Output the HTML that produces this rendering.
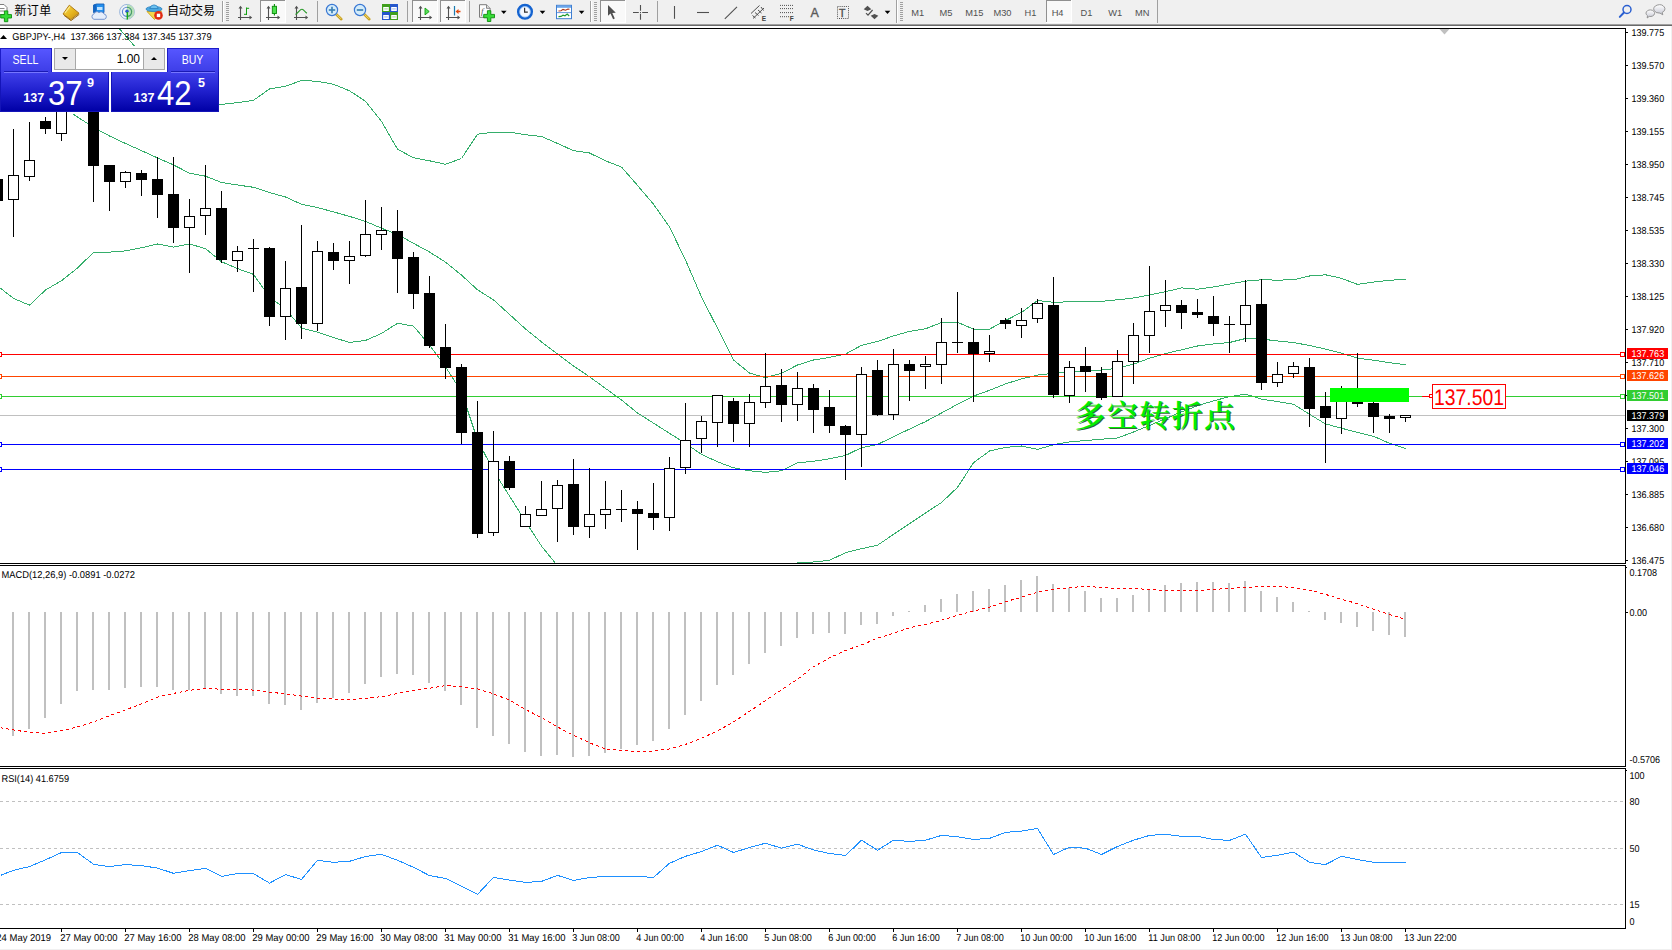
<!DOCTYPE html>
<html><head><meta charset="utf-8"><title>GBPJPY-,H4</title>
<style>
html,body{margin:0;padding:0;background:#fff;overflow:hidden}
body{width:1672px;height:950px;position:relative;font-family:"Liberation Sans","Noto Sans CJK SC",sans-serif}
#root{position:absolute;left:0;top:0;width:1672px;height:950px;overflow:hidden;background:#fff}
#tb{position:absolute;left:0;top:0;width:1672px;height:24px;background:#f0f0f0}
#tb1{position:absolute;left:0;top:24px;width:1672px;height:1px;background:#a0a0a0}
#tb2{position:absolute;left:0;top:25px;width:1672px;height:1px;background:#696969}
#rs{position:absolute;left:1671px;top:26px;width:1px;height:924px;background:#f0f0f0}
#bs{position:absolute;left:0;top:949px;width:1672px;height:1px;background:#f0f0f0}
</style></head><body>
<div id="root">
<svg id="chart" width="1672" height="950" viewBox="0 0 1672 950" style="position:absolute;left:0;top:0;text-rendering:geometricPrecision" font-family="'Liberation Sans','Noto Sans CJK SC',sans-serif">
<defs><clipPath id="cm"><rect x="0" y="29" width="1625" height="534"/></clipPath></defs>
<rect x="0" y="415" width="1625" height="1" fill="#c0c0c0" />
<g clip-path="url(#cm)">
<polyline points="117.8,27.0 134.1,45.6 141.5,52.0 157.5,63.0 173.5,75.0 189.5,88.0 205.5,102.0 220.3,104.6 237.5,102.6 253.5,100.3 269.5,89.0 285.5,86.3 301.5,80.5 317.5,81.3 333.5,84.3 349.5,90.8 365.5,101.3 381.5,121.3 397.5,149.2 413.5,157.8 429.5,160.8 445.5,164.3 461.5,158.5 477.5,134.2 493.5,132.1 509.5,132.1 525.5,134.7 541.5,136.5 557.5,143.4 573.5,150.7 589.5,153.0 605.5,160.8 621.5,167.1 637.5,185.4 653.5,204.2 669.5,227.0 685.5,260.0 701.5,297.0 717.5,328.2 733.5,360.0 749.5,373.0 765.5,377.7 781.5,373.2 797.5,365.0 813.5,360.0 829.5,357.4 845.5,354.1 861.5,345.3 877.5,341.5 893.5,335.9 909.5,331.4 925.5,328.8 941.5,322.5 957.5,322.3 973.5,329.1 989.5,329.1 1005.5,320.5 1021.5,312.4 1037.5,300.5 1053.5,302.3 1069.5,301.8 1085.5,301.3 1101.5,301.3 1117.5,299.8 1133.5,298.0 1149.5,295.0 1165.5,291.7 1181.5,287.9 1197.5,289.2 1213.5,286.9 1229.5,284.1 1245.5,281.1 1261.5,279.8 1277.5,280.1 1293.5,279.8 1309.5,276.0 1325.5,274.8 1341.5,278.3 1357.5,284.4 1373.5,282.1 1389.5,280.3 1405.5,279.3" fill="none" stroke="#35ae6b" stroke-width="1" shape-rendering="crispEdges"/>
<polyline points="73.3,114.2 93.5,127.4 109.5,136.0 125.5,143.5 141.5,150.6 157.5,157.9 173.5,164.9 189.5,173.2 205.5,176.2 221.5,182.5 237.5,185.0 253.5,187.3 269.5,192.5 285.5,197.0 301.5,204.3 317.5,207.6 333.5,211.9 349.5,216.4 365.5,221.4 381.5,228.2 397.5,234.5 413.5,243.3 429.5,252.0 445.5,262.1 461.5,275.1 477.5,289.8 493.5,299.9 509.5,314.4 525.5,328.9 541.5,341.9 557.5,353.9 573.5,366.0 589.5,376.8 605.5,388.4 621.5,400.0 637.5,413.0 653.5,423.1 669.5,433.3 685.5,443.4 701.5,454.3 717.5,461.8 733.5,467.8 749.5,470.8 765.5,472.3 781.5,470.8 797.5,462.8 813.5,461.3 829.5,458.8 845.5,455.4 861.5,447.7 877.5,444.5 893.5,436.7 909.5,429.1 925.5,421.6 941.5,413.0 957.5,404.3 973.5,396.1 989.5,390.3 1005.5,383.9 1021.5,378.9 1037.5,375.1 1053.5,373.3 1069.5,371.8 1085.5,370.8 1101.5,370.0 1117.5,368.3 1133.5,364.2 1149.5,358.2 1165.5,353.6 1181.5,349.8 1197.5,346.0 1213.5,344.0 1229.5,342.5 1245.5,338.5 1261.5,339.0 1277.5,341.0 1293.5,342.5 1309.5,345.5 1325.5,349.1 1341.5,353.1 1357.5,358.2 1373.5,360.2 1389.5,362.7 1405.5,364.7" fill="none" stroke="#35ae6b" stroke-width="1" shape-rendering="crispEdges"/>
<polyline points="0.5,288.3 13.5,298.4 29.5,305.2 45.5,290.0 61.5,280.7 77.5,268.0 93.5,252.4 109.5,252.1 125.5,250.9 141.5,247.8 157.5,244.0 173.5,247.1 189.5,244.0 205.5,248.6 221.5,261.7 237.5,268.6 253.5,274.4 269.5,297.0 285.5,309.0 301.5,328.0 317.5,332.2 333.5,337.5 349.5,342.5 365.5,340.5 381.5,333.4 397.5,323.3 413.5,326.1 429.5,345.2 445.5,366.7 461.5,392.0 477.5,440.0 493.5,470.9 509.5,496.0 525.5,521.5 541.5,546.1 555.2,563.0" fill="none" stroke="#35ae6b" stroke-width="1" shape-rendering="crispEdges"/>
<polyline points="797.2,563.0 813.5,562.0 829.5,560.3 845.5,552.7 861.5,548.7 877.5,545.2 893.5,534.4 909.5,523.6 925.5,513.0 941.5,502.5 957.5,487.4 973.5,462.8 989.5,451.0 1005.5,447.4 1021.5,446.0 1037.5,449.4 1053.5,444.7 1069.5,441.9 1085.5,440.5 1101.5,439.2 1117.5,438.0 1133.5,432.0 1149.5,425.5 1165.5,418.7 1181.5,411.8 1197.5,405.8 1213.5,400.8 1229.5,396.7 1245.5,394.1 1261.5,399.1 1277.5,401.6 1293.5,404.2 1309.5,414.3 1325.5,423.9 1341.5,428.2 1357.5,432.5 1373.5,436.3 1389.5,443.3 1405.5,448.6" fill="none" stroke="#35ae6b" stroke-width="1" shape-rendering="crispEdges"/>
</g>
<rect x="0" y="354" width="1625" height="1" fill="#ff0000" />
<rect x="0" y="376" width="1625" height="1" fill="#ff4500" />
<rect x="0" y="396" width="1625" height="1" fill="#32cd32" />
<rect x="0" y="444" width="1625" height="1" fill="#0000ff" />
<rect x="0" y="469" width="1625" height="1" fill="#0000ff" />
<g shape-rendering="crispEdges">
<rect x="-8" y="179" width="11" height="22" fill="#000"/>
<rect x="13" y="129" width="1" height="108" fill="#000"/>
<rect x="8" y="175" width="11" height="25" fill="#000"/>
<rect x="9" y="176" width="9" height="23" fill="#fff"/>
<rect x="29" y="122" width="1" height="59" fill="#000"/>
<rect x="24" y="160" width="11" height="17" fill="#000"/>
<rect x="25" y="161" width="9" height="15" fill="#fff"/>
<rect x="45" y="117" width="1" height="17" fill="#000"/>
<rect x="40" y="121" width="11" height="8" fill="#000"/>
<rect x="61" y="80" width="1" height="61" fill="#000"/>
<rect x="56" y="90" width="11" height="44" fill="#000"/>
<rect x="57" y="91" width="9" height="42" fill="#fff"/>
<rect x="93" y="95" width="1" height="107" fill="#000"/>
<rect x="88" y="100" width="11" height="66" fill="#000"/>
<rect x="109" y="165" width="1" height="46" fill="#000"/>
<rect x="104" y="165" width="11" height="17" fill="#000"/>
<rect x="125" y="171" width="1" height="17" fill="#000"/>
<rect x="120" y="172" width="11" height="10" fill="#000"/>
<rect x="121" y="173" width="9" height="8" fill="#fff"/>
<rect x="141" y="170" width="1" height="26" fill="#000"/>
<rect x="136" y="173" width="11" height="7" fill="#000"/>
<rect x="157" y="157" width="1" height="61" fill="#000"/>
<rect x="152" y="179" width="11" height="16" fill="#000"/>
<rect x="173" y="157" width="1" height="86" fill="#000"/>
<rect x="168" y="194" width="11" height="34" fill="#000"/>
<rect x="189" y="199" width="1" height="74" fill="#000"/>
<rect x="184" y="216" width="11" height="12" fill="#000"/>
<rect x="185" y="217" width="9" height="10" fill="#fff"/>
<rect x="205" y="165" width="1" height="70" fill="#000"/>
<rect x="200" y="208" width="11" height="8" fill="#000"/>
<rect x="201" y="209" width="9" height="6" fill="#fff"/>
<rect x="221" y="191" width="1" height="72" fill="#000"/>
<rect x="216" y="208" width="11" height="52" fill="#000"/>
<rect x="237" y="246" width="1" height="26" fill="#000"/>
<rect x="232" y="251" width="11" height="10" fill="#000"/>
<rect x="233" y="252" width="9" height="8" fill="#fff"/>
<rect x="253" y="239" width="1" height="53" fill="#000"/>
<rect x="248" y="248" width="11" height="1" fill="#000"/>
<rect x="269" y="247" width="1" height="79" fill="#000"/>
<rect x="264" y="248" width="11" height="69" fill="#000"/>
<rect x="285" y="261" width="1" height="79" fill="#000"/>
<rect x="280" y="288" width="11" height="29" fill="#000"/>
<rect x="281" y="289" width="9" height="27" fill="#fff"/>
<rect x="301" y="225" width="1" height="114" fill="#000"/>
<rect x="296" y="287" width="11" height="37" fill="#000"/>
<rect x="317" y="241" width="1" height="90" fill="#000"/>
<rect x="312" y="251" width="11" height="73" fill="#000"/>
<rect x="313" y="252" width="9" height="71" fill="#fff"/>
<rect x="333" y="243" width="1" height="27" fill="#000"/>
<rect x="328" y="252" width="11" height="9" fill="#000"/>
<rect x="349" y="241" width="1" height="43" fill="#000"/>
<rect x="344" y="256" width="11" height="5" fill="#000"/>
<rect x="345" y="257" width="9" height="3" fill="#fff"/>
<rect x="365" y="200" width="1" height="57" fill="#000"/>
<rect x="360" y="234" width="11" height="22" fill="#000"/>
<rect x="361" y="235" width="9" height="20" fill="#fff"/>
<rect x="381" y="207" width="1" height="43" fill="#000"/>
<rect x="376" y="230" width="11" height="5" fill="#000"/>
<rect x="377" y="231" width="9" height="3" fill="#fff"/>
<rect x="397" y="210" width="1" height="83" fill="#000"/>
<rect x="392" y="231" width="11" height="28" fill="#000"/>
<rect x="413" y="252" width="1" height="57" fill="#000"/>
<rect x="408" y="257" width="11" height="37" fill="#000"/>
<rect x="429" y="276" width="1" height="72" fill="#000"/>
<rect x="424" y="293" width="11" height="53" fill="#000"/>
<rect x="445" y="324" width="1" height="55" fill="#000"/>
<rect x="440" y="347" width="11" height="21" fill="#000"/>
<rect x="461" y="364" width="1" height="80" fill="#000"/>
<rect x="456" y="367" width="11" height="66" fill="#000"/>
<rect x="477" y="401" width="1" height="137" fill="#000"/>
<rect x="472" y="432" width="11" height="102" fill="#000"/>
<rect x="493" y="431" width="1" height="105" fill="#000"/>
<rect x="488" y="461" width="11" height="72" fill="#000"/>
<rect x="489" y="462" width="9" height="70" fill="#fff"/>
<rect x="509" y="456" width="1" height="34" fill="#000"/>
<rect x="504" y="461" width="11" height="27" fill="#000"/>
<rect x="525" y="506" width="1" height="20" fill="#000"/>
<rect x="520" y="514" width="11" height="13" fill="#000"/>
<rect x="521" y="515" width="9" height="11" fill="#fff"/>
<rect x="541" y="481" width="1" height="35" fill="#000"/>
<rect x="536" y="509" width="11" height="7" fill="#000"/>
<rect x="537" y="510" width="9" height="5" fill="#fff"/>
<rect x="557" y="480" width="1" height="62" fill="#000"/>
<rect x="552" y="485" width="11" height="24" fill="#000"/>
<rect x="553" y="486" width="9" height="22" fill="#fff"/>
<rect x="573" y="459" width="1" height="76" fill="#000"/>
<rect x="568" y="484" width="11" height="43" fill="#000"/>
<rect x="589" y="468" width="1" height="70" fill="#000"/>
<rect x="584" y="514" width="11" height="13" fill="#000"/>
<rect x="585" y="515" width="9" height="11" fill="#fff"/>
<rect x="605" y="481" width="1" height="48" fill="#000"/>
<rect x="600" y="509" width="11" height="6" fill="#000"/>
<rect x="601" y="510" width="9" height="4" fill="#fff"/>
<rect x="621" y="490" width="1" height="32" fill="#000"/>
<rect x="616" y="509" width="11" height="1" fill="#000"/>
<rect x="637" y="501" width="1" height="49" fill="#000"/>
<rect x="632" y="509" width="11" height="5" fill="#000"/>
<rect x="653" y="483" width="1" height="47" fill="#000"/>
<rect x="648" y="513" width="11" height="5" fill="#000"/>
<rect x="669" y="457" width="1" height="74" fill="#000"/>
<rect x="664" y="468" width="11" height="50" fill="#000"/>
<rect x="665" y="469" width="9" height="48" fill="#fff"/>
<rect x="685" y="403" width="1" height="71" fill="#000"/>
<rect x="680" y="440" width="11" height="28" fill="#000"/>
<rect x="681" y="441" width="9" height="26" fill="#fff"/>
<rect x="701" y="416" width="1" height="37" fill="#000"/>
<rect x="696" y="421" width="11" height="18" fill="#000"/>
<rect x="697" y="422" width="9" height="16" fill="#fff"/>
<rect x="717" y="395" width="1" height="52" fill="#000"/>
<rect x="712" y="395" width="11" height="28" fill="#000"/>
<rect x="713" y="396" width="9" height="26" fill="#fff"/>
<rect x="733" y="398" width="1" height="44" fill="#000"/>
<rect x="728" y="401" width="11" height="23" fill="#000"/>
<rect x="749" y="394" width="1" height="53" fill="#000"/>
<rect x="744" y="402" width="11" height="22" fill="#000"/>
<rect x="745" y="403" width="9" height="20" fill="#fff"/>
<rect x="765" y="353" width="1" height="55" fill="#000"/>
<rect x="760" y="386" width="11" height="17" fill="#000"/>
<rect x="761" y="387" width="9" height="15" fill="#fff"/>
<rect x="781" y="369" width="1" height="53" fill="#000"/>
<rect x="776" y="385" width="11" height="20" fill="#000"/>
<rect x="797" y="372" width="1" height="49" fill="#000"/>
<rect x="792" y="388" width="11" height="17" fill="#000"/>
<rect x="793" y="389" width="9" height="15" fill="#fff"/>
<rect x="813" y="384" width="1" height="49" fill="#000"/>
<rect x="808" y="388" width="11" height="22" fill="#000"/>
<rect x="829" y="390" width="1" height="43" fill="#000"/>
<rect x="824" y="407" width="11" height="19" fill="#000"/>
<rect x="845" y="425" width="1" height="55" fill="#000"/>
<rect x="840" y="426" width="11" height="9" fill="#000"/>
<rect x="861" y="367" width="1" height="100" fill="#000"/>
<rect x="856" y="374" width="11" height="61" fill="#000"/>
<rect x="857" y="375" width="9" height="59" fill="#fff"/>
<rect x="877" y="360" width="1" height="56" fill="#000"/>
<rect x="872" y="370" width="11" height="45" fill="#000"/>
<rect x="893" y="349" width="1" height="71" fill="#000"/>
<rect x="888" y="364" width="11" height="51" fill="#000"/>
<rect x="889" y="365" width="9" height="49" fill="#fff"/>
<rect x="909" y="360" width="1" height="41" fill="#000"/>
<rect x="904" y="364" width="11" height="7" fill="#000"/>
<rect x="925" y="356" width="1" height="33" fill="#000"/>
<rect x="920" y="364" width="11" height="3" fill="#000"/>
<rect x="921" y="365" width="9" height="1" fill="#fff"/>
<rect x="941" y="318" width="1" height="66" fill="#000"/>
<rect x="936" y="342" width="11" height="23" fill="#000"/>
<rect x="937" y="343" width="9" height="21" fill="#fff"/>
<rect x="957" y="292" width="1" height="61" fill="#000"/>
<rect x="952" y="342" width="11" height="1" fill="#000"/>
<rect x="973" y="328" width="1" height="74" fill="#000"/>
<rect x="968" y="342" width="11" height="12" fill="#000"/>
<rect x="989" y="335" width="1" height="27" fill="#000"/>
<rect x="984" y="351" width="11" height="3" fill="#000"/>
<rect x="985" y="352" width="9" height="1" fill="#fff"/>
<rect x="1005" y="318" width="1" height="11" fill="#000"/>
<rect x="1000" y="320" width="11" height="4" fill="#000"/>
<rect x="1021" y="308" width="1" height="30" fill="#000"/>
<rect x="1016" y="320" width="11" height="6" fill="#000"/>
<rect x="1017" y="321" width="9" height="4" fill="#fff"/>
<rect x="1037" y="299" width="1" height="24" fill="#000"/>
<rect x="1032" y="303" width="11" height="16" fill="#000"/>
<rect x="1033" y="304" width="9" height="14" fill="#fff"/>
<rect x="1053" y="277" width="1" height="121" fill="#000"/>
<rect x="1048" y="305" width="11" height="90" fill="#000"/>
<rect x="1069" y="361" width="1" height="42" fill="#000"/>
<rect x="1064" y="367" width="11" height="29" fill="#000"/>
<rect x="1065" y="368" width="9" height="27" fill="#fff"/>
<rect x="1085" y="347" width="1" height="45" fill="#000"/>
<rect x="1080" y="366" width="11" height="6" fill="#000"/>
<rect x="1101" y="367" width="1" height="33" fill="#000"/>
<rect x="1096" y="373" width="11" height="25" fill="#000"/>
<rect x="1117" y="350" width="1" height="47" fill="#000"/>
<rect x="1112" y="361" width="11" height="36" fill="#000"/>
<rect x="1113" y="362" width="9" height="34" fill="#fff"/>
<rect x="1133" y="323" width="1" height="61" fill="#000"/>
<rect x="1128" y="335" width="11" height="27" fill="#000"/>
<rect x="1129" y="336" width="9" height="25" fill="#fff"/>
<rect x="1149" y="266" width="1" height="87" fill="#000"/>
<rect x="1144" y="311" width="11" height="25" fill="#000"/>
<rect x="1145" y="312" width="9" height="23" fill="#fff"/>
<rect x="1165" y="280" width="1" height="47" fill="#000"/>
<rect x="1160" y="305" width="11" height="6" fill="#000"/>
<rect x="1161" y="306" width="9" height="4" fill="#fff"/>
<rect x="1181" y="300" width="1" height="29" fill="#000"/>
<rect x="1176" y="305" width="11" height="8" fill="#000"/>
<rect x="1197" y="299" width="1" height="19" fill="#000"/>
<rect x="1192" y="312" width="11" height="3" fill="#000"/>
<rect x="1213" y="296" width="1" height="40" fill="#000"/>
<rect x="1208" y="316" width="11" height="8" fill="#000"/>
<rect x="1229" y="316" width="1" height="37" fill="#000"/>
<rect x="1224" y="324" width="11" height="1" fill="#000"/>
<rect x="1245" y="280" width="1" height="62" fill="#000"/>
<rect x="1240" y="305" width="11" height="20" fill="#000"/>
<rect x="1241" y="306" width="9" height="18" fill="#fff"/>
<rect x="1261" y="279" width="1" height="111" fill="#000"/>
<rect x="1256" y="304" width="11" height="79" fill="#000"/>
<rect x="1277" y="362" width="1" height="25" fill="#000"/>
<rect x="1272" y="374" width="11" height="9" fill="#000"/>
<rect x="1273" y="375" width="9" height="7" fill="#fff"/>
<rect x="1293" y="362" width="1" height="16" fill="#000"/>
<rect x="1288" y="366" width="11" height="8" fill="#000"/>
<rect x="1289" y="367" width="9" height="6" fill="#fff"/>
<rect x="1309" y="358" width="1" height="69" fill="#000"/>
<rect x="1304" y="367" width="11" height="42" fill="#000"/>
<rect x="1325" y="392" width="1" height="71" fill="#000"/>
<rect x="1320" y="406" width="11" height="12" fill="#000"/>
<rect x="1341" y="386" width="1" height="48" fill="#000"/>
<rect x="1336" y="395" width="11" height="24" fill="#000"/>
<rect x="1337" y="396" width="9" height="22" fill="#fff"/>
<rect x="1357" y="353" width="1" height="54" fill="#000"/>
<rect x="1352" y="402" width="11" height="2" fill="#000"/>
<rect x="1373" y="400" width="1" height="33" fill="#000"/>
<rect x="1368" y="403" width="11" height="14" fill="#000"/>
<rect x="1389" y="414" width="1" height="19" fill="#000"/>
<rect x="1384" y="416" width="11" height="3" fill="#000"/>
<rect x="1405" y="415" width="1" height="7" fill="#000"/>
<rect x="1400" y="415" width="11" height="3" fill="#000"/>
<rect x="1401" y="416" width="9" height="1" fill="#fff"/>
</g>
<rect x="1330" y="388" width="79" height="14" fill="#00ff00"/>
<rect x="1620.5" y="352.5" width="4" height="4" fill="#fff" stroke="#ff0000" stroke-width="1"/>
<rect x="-1.5" y="352.5" width="3" height="4" fill="#fff" stroke="#ff0000" stroke-width="1"/>
<rect x="1620.5" y="374.5" width="4" height="4" fill="#fff" stroke="#ff4500" stroke-width="1"/>
<rect x="-1.5" y="374.5" width="3" height="4" fill="#fff" stroke="#ff4500" stroke-width="1"/>
<rect x="1620.5" y="394.5" width="4" height="4" fill="#fff" stroke="#32cd32" stroke-width="1"/>
<rect x="-1.5" y="394.5" width="3" height="4" fill="#fff" stroke="#32cd32" stroke-width="1"/>
<rect x="1620.5" y="442.5" width="4" height="4" fill="#fff" stroke="#0000ff" stroke-width="1"/>
<rect x="-1.5" y="442.5" width="3" height="4" fill="#fff" stroke="#0000ff" stroke-width="1"/>
<rect x="1620.5" y="467.5" width="4" height="4" fill="#fff" stroke="#0000ff" stroke-width="1"/>
<rect x="-1.5" y="467.5" width="3" height="4" fill="#fff" stroke="#0000ff" stroke-width="1"/>
<rect x="1422" y="396" width="7" height="1" fill="#ff0000" />
<rect x="1429.5" y="394.5" width="3" height="3" fill="#fff" stroke="#ff0000"/>
<rect x="1432.5" y="384.5" width="73" height="24" fill="#fff" stroke="#ff0000"/>
<text x="1434" y="405" font-size="22.5" fill="#ff0000" textLength="70" lengthAdjust="spacingAndGlyphs">137.501</text>
<polygon points="1439.5,29 1449.5,29 1444.5,34.5" fill="#c0c0c0"/>
<g shape-rendering="crispEdges">
<rect x="12" y="612" width="2" height="124" fill="#c0c0c0"/>
<rect x="28" y="612" width="2" height="117" fill="#c0c0c0"/>
<rect x="44" y="612" width="2" height="106" fill="#c0c0c0"/>
<rect x="60" y="612" width="2" height="92" fill="#c0c0c0"/>
<rect x="76" y="612" width="2" height="79" fill="#c0c0c0"/>
<rect x="92" y="612" width="2" height="78" fill="#c0c0c0"/>
<rect x="108" y="612" width="2" height="78" fill="#c0c0c0"/>
<rect x="124" y="612" width="2" height="76" fill="#c0c0c0"/>
<rect x="140" y="612" width="2" height="75" fill="#c0c0c0"/>
<rect x="156" y="612" width="2" height="75" fill="#c0c0c0"/>
<rect x="172" y="612" width="2" height="78" fill="#c0c0c0"/>
<rect x="188" y="612" width="2" height="78" fill="#c0c0c0"/>
<rect x="204" y="612" width="2" height="76" fill="#c0c0c0"/>
<rect x="220" y="612" width="2" height="82" fill="#c0c0c0"/>
<rect x="236" y="612" width="2" height="84" fill="#c0c0c0"/>
<rect x="252" y="612" width="2" height="84" fill="#c0c0c0"/>
<rect x="268" y="612" width="2" height="92" fill="#c0c0c0"/>
<rect x="284" y="612" width="2" height="93" fill="#c0c0c0"/>
<rect x="300" y="612" width="2" height="98" fill="#c0c0c0"/>
<rect x="316" y="612" width="2" height="91" fill="#c0c0c0"/>
<rect x="332" y="612" width="2" height="86" fill="#c0c0c0"/>
<rect x="348" y="612" width="2" height="81" fill="#c0c0c0"/>
<rect x="364" y="612" width="2" height="72" fill="#c0c0c0"/>
<rect x="380" y="612" width="2" height="65" fill="#c0c0c0"/>
<rect x="396" y="612" width="2" height="62" fill="#c0c0c0"/>
<rect x="412" y="612" width="2" height="63" fill="#c0c0c0"/>
<rect x="428" y="612" width="2" height="71" fill="#c0c0c0"/>
<rect x="444" y="612" width="2" height="79" fill="#c0c0c0"/>
<rect x="460" y="612" width="2" height="93" fill="#c0c0c0"/>
<rect x="476" y="612" width="2" height="116" fill="#c0c0c0"/>
<rect x="492" y="612" width="2" height="124" fill="#c0c0c0"/>
<rect x="508" y="612" width="2" height="132" fill="#c0c0c0"/>
<rect x="524" y="612" width="2" height="140" fill="#c0c0c0"/>
<rect x="540" y="612" width="2" height="144" fill="#c0c0c0"/>
<rect x="556" y="612" width="2" height="143" fill="#c0c0c0"/>
<rect x="572" y="612" width="2" height="145" fill="#c0c0c0"/>
<rect x="588" y="612" width="2" height="144" fill="#c0c0c0"/>
<rect x="604" y="612" width="2" height="141" fill="#c0c0c0"/>
<rect x="620" y="612" width="2" height="137" fill="#c0c0c0"/>
<rect x="636" y="612" width="2" height="133" fill="#c0c0c0"/>
<rect x="652" y="612" width="2" height="129" fill="#c0c0c0"/>
<rect x="668" y="612" width="2" height="117" fill="#c0c0c0"/>
<rect x="684" y="612" width="2" height="103" fill="#c0c0c0"/>
<rect x="700" y="612" width="2" height="89" fill="#c0c0c0"/>
<rect x="716" y="612" width="2" height="73" fill="#c0c0c0"/>
<rect x="732" y="612" width="2" height="63" fill="#c0c0c0"/>
<rect x="748" y="612" width="2" height="52" fill="#c0c0c0"/>
<rect x="764" y="612" width="2" height="41" fill="#c0c0c0"/>
<rect x="780" y="612" width="2" height="34" fill="#c0c0c0"/>
<rect x="796" y="612" width="2" height="26" fill="#c0c0c0"/>
<rect x="812" y="612" width="2" height="22" fill="#c0c0c0"/>
<rect x="828" y="612" width="2" height="21" fill="#c0c0c0"/>
<rect x="844" y="612" width="2" height="22" fill="#c0c0c0"/>
<rect x="860" y="612" width="2" height="13" fill="#c0c0c0"/>
<rect x="876" y="612" width="2" height="12" fill="#c0c0c0"/>
<rect x="892" y="612" width="2" height="4" fill="#c0c0c0"/>
<rect x="908" y="611" width="2" height="1" fill="#c0c0c0"/>
<rect x="924" y="605" width="2" height="7" fill="#c0c0c0"/>
<rect x="940" y="599" width="2" height="13" fill="#c0c0c0"/>
<rect x="956" y="594" width="2" height="18" fill="#c0c0c0"/>
<rect x="972" y="591" width="2" height="21" fill="#c0c0c0"/>
<rect x="988" y="589" width="2" height="23" fill="#c0c0c0"/>
<rect x="1004" y="585" width="2" height="27" fill="#c0c0c0"/>
<rect x="1020" y="580" width="2" height="32" fill="#c0c0c0"/>
<rect x="1036" y="576" width="2" height="36" fill="#c0c0c0"/>
<rect x="1052" y="584" width="2" height="28" fill="#c0c0c0"/>
<rect x="1068" y="588" width="2" height="24" fill="#c0c0c0"/>
<rect x="1084" y="591" width="2" height="21" fill="#c0c0c0"/>
<rect x="1100" y="598" width="2" height="14" fill="#c0c0c0"/>
<rect x="1116" y="598" width="2" height="14" fill="#c0c0c0"/>
<rect x="1132" y="595" width="2" height="17" fill="#c0c0c0"/>
<rect x="1148" y="589" width="2" height="23" fill="#c0c0c0"/>
<rect x="1164" y="585" width="2" height="27" fill="#c0c0c0"/>
<rect x="1180" y="583" width="2" height="29" fill="#c0c0c0"/>
<rect x="1196" y="582" width="2" height="30" fill="#c0c0c0"/>
<rect x="1212" y="582" width="2" height="30" fill="#c0c0c0"/>
<rect x="1228" y="583" width="2" height="29" fill="#c0c0c0"/>
<rect x="1244" y="581" width="2" height="31" fill="#c0c0c0"/>
<rect x="1260" y="591" width="2" height="21" fill="#c0c0c0"/>
<rect x="1276" y="597" width="2" height="15" fill="#c0c0c0"/>
<rect x="1292" y="602" width="2" height="10" fill="#c0c0c0"/>
<rect x="1308" y="611" width="2" height="1" fill="#c0c0c0"/>
<rect x="1324" y="612" width="2" height="8" fill="#c0c0c0"/>
<rect x="1340" y="612" width="2" height="11" fill="#c0c0c0"/>
<rect x="1356" y="612" width="2" height="15" fill="#c0c0c0"/>
<rect x="1372" y="612" width="2" height="19" fill="#c0c0c0"/>
<rect x="1388" y="612" width="2" height="23" fill="#c0c0c0"/>
<rect x="1404" y="612" width="2" height="25" fill="#c0c0c0"/>
</g>
<polyline points="0.5,727.8 13.5,730.0 29.5,732.3 45.5,733.3 61.5,730.8 77.5,727.0 93.5,722.0 109.5,715.7 125.5,709.9 141.5,703.9 157.5,697.1 173.5,693.4 189.5,690.3 205.5,688.3 221.5,689.3 237.5,689.3 253.5,690.1 269.5,692.1 285.5,693.9 301.5,696.1 317.5,698.1 333.5,699.1 349.5,699.4 365.5,698.4 381.5,696.6 397.5,693.6 413.5,690.2 429.5,688.3 445.5,685.6 461.5,686.8 477.5,688.8 493.5,693.9 509.5,700.1 525.5,709.4 541.5,717.7 557.5,727.0 573.5,735.3 589.5,742.8 605.5,749.1 621.5,750.4 637.5,751.4 653.5,751.1 669.5,748.9 685.5,744.4 701.5,738.3 717.5,730.8 733.5,722.0 749.5,711.4 765.5,700.6 781.5,689.8 797.5,679.3 813.5,666.7 829.5,657.9 845.5,650.4 861.5,644.9 877.5,638.3 893.5,633.3 909.5,627.8 925.5,624.3 941.5,620.3 957.5,615.2 973.5,611.2 989.5,607.2 1005.5,601.7 1021.5,597.2 1037.5,592.1 1053.5,589.4 1069.5,587.6 1085.5,586.4 1101.5,587.4 1117.5,588.4 1133.5,588.6 1149.5,589.4 1165.5,590.4 1181.5,590.4 1197.5,590.4 1213.5,589.4 1229.5,588.4 1245.5,587.6 1261.5,586.6 1277.5,586.6 1293.5,587.4 1309.5,590.1 1325.5,594.4 1341.5,599.2 1357.5,603.7 1373.5,609.2 1389.5,614.5 1405.5,619.3" fill="none" stroke="#ff0000" stroke-width="1" stroke-dasharray="3,3" shape-rendering="crispEdges"/>
<line x1="0" y1="801.5" x2="1625" y2="801.5" stroke="#c0c0c0" stroke-dasharray="3,3" shape-rendering="crispEdges"/>
<line x1="0" y1="848.5" x2="1625" y2="848.5" stroke="#c0c0c0" stroke-dasharray="3,3" shape-rendering="crispEdges"/>
<line x1="0" y1="904.5" x2="1625" y2="904.5" stroke="#c0c0c0" stroke-dasharray="3,3" shape-rendering="crispEdges"/>
<polyline points="0.5,875.4 13.5,870.3 29.5,866.6 45.5,859.8 61.5,852.5 77.5,852.5 93.5,864.3 109.5,866.6 125.5,864.6 141.5,865.6 157.5,868.1 173.5,873.3 189.5,870.6 205.5,868.3 221.5,876.4 237.5,873.6 253.5,873.6 269.5,883.1 285.5,874.6 301.5,879.4 317.5,860.3 333.5,862.3 349.5,861.3 365.5,856.5 381.5,854.3 397.5,860.3 413.5,867.3 429.5,875.6 445.5,878.4 461.5,886.2 477.5,894.4 493.5,877.4 509.5,880.1 525.5,882.4 541.5,881.4 557.5,875.4 573.5,880.4 589.5,877.6 605.5,876.4 621.5,876.4 637.5,876.4 653.5,877.4 669.5,863.3 685.5,856.3 701.5,851.5 717.5,845.2 733.5,852.5 749.5,847.5 765.5,843.2 781.5,848.2 797.5,844.2 813.5,850.0 829.5,853.5 845.5,855.5 861.5,840.2 877.5,850.2 893.5,840.2 909.5,841.4 925.5,840.2 941.5,835.4 957.5,836.7 973.5,839.4 989.5,838.4 1005.5,832.4 1021.5,831.1 1037.5,828.4 1053.5,854.5 1069.5,847.2 1085.5,848.2 1101.5,854.5 1117.5,846.5 1133.5,840.2 1149.5,835.4 1165.5,834.2 1181.5,836.4 1197.5,836.4 1213.5,839.4 1229.5,840.4 1245.5,834.2 1261.5,857.5 1277.5,855.3 1293.5,852.2 1309.5,862.3 1325.5,864.6 1341.5,856.3 1357.5,859.5 1373.5,862.3 1389.5,862.3 1405.5,862.3" fill="none" stroke="#1e90ff" stroke-width="1" shape-rendering="crispEdges"/>
<g shape-rendering="crispEdges">
<rect x="0" y="28" width="1626" height="1" fill="#000" />
<rect x="1625" y="28" width="1" height="901" fill="#000"/>
<rect x="0" y="563" width="1626" height="1" fill="#000" />
<rect x="0" y="565" width="1626" height="1" fill="#000" />
<rect x="0" y="766" width="1626" height="1" fill="#000" />
<rect x="0" y="768" width="1626" height="1" fill="#000" />
<rect x="0" y="928" width="1626" height="1" fill="#000" />
<rect x="0" y="564" width="1672" height="1" fill="#fff"/>
<rect x="0" y="767" width="1672" height="1" fill="#fff"/>
<rect x="61" y="929" width="1" height="3" fill="#000"/>
<rect x="125" y="929" width="1" height="3" fill="#000"/>
<rect x="189" y="929" width="1" height="3" fill="#000"/>
<rect x="253" y="929" width="1" height="3" fill="#000"/>
<rect x="317" y="929" width="1" height="3" fill="#000"/>
<rect x="381" y="929" width="1" height="3" fill="#000"/>
<rect x="445" y="929" width="1" height="3" fill="#000"/>
<rect x="509" y="929" width="1" height="3" fill="#000"/>
<rect x="573" y="929" width="1" height="3" fill="#000"/>
<rect x="637" y="929" width="1" height="3" fill="#000"/>
<rect x="701" y="929" width="1" height="3" fill="#000"/>
<rect x="765" y="929" width="1" height="3" fill="#000"/>
<rect x="829" y="929" width="1" height="3" fill="#000"/>
<rect x="893" y="929" width="1" height="3" fill="#000"/>
<rect x="957" y="929" width="1" height="3" fill="#000"/>
<rect x="1021" y="929" width="1" height="3" fill="#000"/>
<rect x="1085" y="929" width="1" height="3" fill="#000"/>
<rect x="1149" y="929" width="1" height="3" fill="#000"/>
<rect x="1213" y="929" width="1" height="3" fill="#000"/>
<rect x="1277" y="929" width="1" height="3" fill="#000"/>
<rect x="1341" y="929" width="1" height="3" fill="#000"/>
<rect x="1405" y="929" width="1" height="3" fill="#000"/>
<rect x="1626" y="32" width="2" height="1" fill="#000" />
<rect x="1626" y="65" width="2" height="1" fill="#000" />
<rect x="1626" y="98" width="2" height="1" fill="#000" />
<rect x="1626" y="131" width="2" height="1" fill="#000" />
<rect x="1626" y="164" width="2" height="1" fill="#000" />
<rect x="1626" y="197" width="2" height="1" fill="#000" />
<rect x="1626" y="230" width="2" height="1" fill="#000" />
<rect x="1626" y="263" width="2" height="1" fill="#000" />
<rect x="1626" y="296" width="2" height="1" fill="#000" />
<rect x="1626" y="329" width="2" height="1" fill="#000" />
<rect x="1626" y="362" width="2" height="1" fill="#000" />
<rect x="1626" y="395" width="2" height="1" fill="#000" />
<rect x="1626" y="428" width="2" height="1" fill="#000" />
<rect x="1626" y="461" width="2" height="1" fill="#000" />
<rect x="1626" y="494" width="2" height="1" fill="#000" />
<rect x="1626" y="527" width="2" height="1" fill="#000" />
<rect x="1626" y="560" width="2" height="1" fill="#000" />
<rect x="1626" y="612" width="2" height="1" fill="#000" />
<rect x="1626" y="567" width="1" height="1" fill="#000" />
<rect x="1626" y="770" width="1" height="1" fill="#000" />
</g>
<text transform="translate(1631.5,35.8) scale(0.915,1)" font-size="9.9" fill="#000" text-anchor="start" >139.775</text>
<text transform="translate(1631.5,68.8) scale(0.915,1)" font-size="9.9" fill="#000" text-anchor="start" >139.570</text>
<text transform="translate(1631.5,101.8) scale(0.915,1)" font-size="9.9" fill="#000" text-anchor="start" >139.360</text>
<text transform="translate(1631.5,134.8) scale(0.915,1)" font-size="9.9" fill="#000" text-anchor="start" >139.155</text>
<text transform="translate(1631.5,167.8) scale(0.915,1)" font-size="9.9" fill="#000" text-anchor="start" >138.950</text>
<text transform="translate(1631.5,200.8) scale(0.915,1)" font-size="9.9" fill="#000" text-anchor="start" >138.745</text>
<text transform="translate(1631.5,233.8) scale(0.915,1)" font-size="9.9" fill="#000" text-anchor="start" >138.535</text>
<text transform="translate(1631.5,266.8) scale(0.915,1)" font-size="9.9" fill="#000" text-anchor="start" >138.330</text>
<text transform="translate(1631.5,299.8) scale(0.915,1)" font-size="9.9" fill="#000" text-anchor="start" >138.125</text>
<text transform="translate(1631.5,332.8) scale(0.915,1)" font-size="9.9" fill="#000" text-anchor="start" >137.920</text>
<text transform="translate(1631.5,365.8) scale(0.915,1)" font-size="9.9" fill="#000" text-anchor="start" >137.710</text>
<text transform="translate(1631.5,431.8) scale(0.915,1)" font-size="9.9" fill="#000" text-anchor="start" >137.300</text>
<text transform="translate(1631.5,464.8) scale(0.915,1)" font-size="9.9" fill="#000" text-anchor="start" >137.095</text>
<text transform="translate(1631.5,497.8) scale(0.915,1)" font-size="9.9" fill="#000" text-anchor="start" >136.885</text>
<text transform="translate(1631.5,530.8) scale(0.915,1)" font-size="9.9" fill="#000" text-anchor="start" >136.680</text>
<text transform="translate(1631.5,563.8) scale(0.915,1)" font-size="9.9" fill="#000" text-anchor="start" >136.475</text>
<text transform="translate(1629.5,575.9) scale(0.915,1)" font-size="9.9" fill="#000" text-anchor="start" >0.1708</text>
<text transform="translate(1629.5,615.9) scale(0.915,1)" font-size="9.9" fill="#000" text-anchor="start" >0.00</text>
<text transform="translate(1629.5,763.3) scale(0.915,1)" font-size="9.9" fill="#000" text-anchor="start" >-0.5706</text>
<text transform="translate(1629.5,779.0) scale(0.915,1)" font-size="9.9" fill="#000" text-anchor="start" >100</text>
<text transform="translate(1629.5,805.0999999999999) scale(0.915,1)" font-size="9.9" fill="#000" text-anchor="start" >80</text>
<text transform="translate(1629.5,852.1999999999999) scale(0.915,1)" font-size="9.9" fill="#000" text-anchor="start" >50</text>
<text transform="translate(1629.5,908.1999999999999) scale(0.915,1)" font-size="9.9" fill="#000" text-anchor="start" >15</text>
<text transform="translate(1629.5,925.0) scale(0.915,1)" font-size="9.9" fill="#000" text-anchor="start" >0</text>
<rect x="1627" y="348" width="41" height="11" fill="#ff0000" shape-rendering="crispEdges"/>
<text transform="translate(1631.5,357.0) scale(0.915,1)" font-size="9.9" fill="#fff" text-anchor="start" >137.763</text>
<rect x="1627" y="370" width="41" height="11" fill="#ff4500" shape-rendering="crispEdges"/>
<text transform="translate(1631.5,379.0) scale(0.915,1)" font-size="9.9" fill="#fff" text-anchor="start" >137.626</text>
<rect x="1627" y="390" width="41" height="11" fill="#32cd32" shape-rendering="crispEdges"/>
<text transform="translate(1631.5,399.0) scale(0.915,1)" font-size="9.9" fill="#fff" text-anchor="start" >137.501</text>
<rect x="1627" y="410" width="41" height="11" fill="#000000" shape-rendering="crispEdges"/>
<text transform="translate(1631.5,419.0) scale(0.915,1)" font-size="9.9" fill="#fff" text-anchor="start" >137.379</text>
<rect x="1627" y="438" width="41" height="11" fill="#0000ff" shape-rendering="crispEdges"/>
<text transform="translate(1631.5,447.0) scale(0.915,1)" font-size="9.9" fill="#fff" text-anchor="start" >137.202</text>
<rect x="1627" y="463" width="41" height="11" fill="#0000ff" shape-rendering="crispEdges"/>
<text transform="translate(1631.5,472.0) scale(0.915,1)" font-size="9.9" fill="#fff" text-anchor="start" >137.046</text>
<text x="-3.7" y="940.6999999999999" font-size="9.9" fill="#000" text-anchor="start" textLength="54.8" lengthAdjust="spacingAndGlyphs">24 May 2019</text>
<text x="60.3" y="940.6999999999999" font-size="9.9" fill="#000" text-anchor="start" textLength="57.3" lengthAdjust="spacingAndGlyphs">27 May 00:00</text>
<text x="124.3" y="940.6999999999999" font-size="9.9" fill="#000" text-anchor="start" textLength="57.3" lengthAdjust="spacingAndGlyphs">27 May 16:00</text>
<text x="188.3" y="940.6999999999999" font-size="9.9" fill="#000" text-anchor="start" textLength="57.3" lengthAdjust="spacingAndGlyphs">28 May 08:00</text>
<text x="252.3" y="940.6999999999999" font-size="9.9" fill="#000" text-anchor="start" textLength="57.3" lengthAdjust="spacingAndGlyphs">29 May 00:00</text>
<text x="316.3" y="940.6999999999999" font-size="9.9" fill="#000" text-anchor="start" textLength="57.3" lengthAdjust="spacingAndGlyphs">29 May 16:00</text>
<text x="380.3" y="940.6999999999999" font-size="9.9" fill="#000" text-anchor="start" textLength="57.3" lengthAdjust="spacingAndGlyphs">30 May 08:00</text>
<text x="444.3" y="940.6999999999999" font-size="9.9" fill="#000" text-anchor="start" textLength="57.3" lengthAdjust="spacingAndGlyphs">31 May 00:00</text>
<text x="508.3" y="940.6999999999999" font-size="9.9" fill="#000" text-anchor="start" textLength="57.3" lengthAdjust="spacingAndGlyphs">31 May 16:00</text>
<text x="572.3" y="940.6999999999999" font-size="9.9" fill="#000" text-anchor="start" textLength="47.5" lengthAdjust="spacingAndGlyphs">3 Jun 08:00</text>
<text x="636.3" y="940.6999999999999" font-size="9.9" fill="#000" text-anchor="start" textLength="47.5" lengthAdjust="spacingAndGlyphs">4 Jun 00:00</text>
<text x="700.3" y="940.6999999999999" font-size="9.9" fill="#000" text-anchor="start" textLength="47.5" lengthAdjust="spacingAndGlyphs">4 Jun 16:00</text>
<text x="764.3" y="940.6999999999999" font-size="9.9" fill="#000" text-anchor="start" textLength="47.5" lengthAdjust="spacingAndGlyphs">5 Jun 08:00</text>
<text x="828.3" y="940.6999999999999" font-size="9.9" fill="#000" text-anchor="start" textLength="47.5" lengthAdjust="spacingAndGlyphs">6 Jun 00:00</text>
<text x="892.3" y="940.6999999999999" font-size="9.9" fill="#000" text-anchor="start" textLength="47.5" lengthAdjust="spacingAndGlyphs">6 Jun 16:00</text>
<text x="956.3" y="940.6999999999999" font-size="9.9" fill="#000" text-anchor="start" textLength="47.5" lengthAdjust="spacingAndGlyphs">7 Jun 08:00</text>
<text x="1020.3" y="940.6999999999999" font-size="9.9" fill="#000" text-anchor="start" textLength="52.2" lengthAdjust="spacingAndGlyphs">10 Jun 00:00</text>
<text x="1084.3" y="940.6999999999999" font-size="9.9" fill="#000" text-anchor="start" textLength="52.2" lengthAdjust="spacingAndGlyphs">10 Jun 16:00</text>
<text x="1148.3" y="940.6999999999999" font-size="9.9" fill="#000" text-anchor="start" textLength="52.2" lengthAdjust="spacingAndGlyphs">11 Jun 08:00</text>
<text x="1212.3" y="940.6999999999999" font-size="9.9" fill="#000" text-anchor="start" textLength="52.2" lengthAdjust="spacingAndGlyphs">12 Jun 00:00</text>
<text x="1276.3" y="940.6999999999999" font-size="9.9" fill="#000" text-anchor="start" textLength="52.2" lengthAdjust="spacingAndGlyphs">12 Jun 16:00</text>
<text x="1340.3" y="940.6999999999999" font-size="9.9" fill="#000" text-anchor="start" textLength="52.2" lengthAdjust="spacingAndGlyphs">13 Jun 08:00</text>
<text x="1404.3" y="940.6999999999999" font-size="9.9" fill="#000" text-anchor="start" textLength="52.2" lengthAdjust="spacingAndGlyphs">13 Jun 22:00</text>
<text x="1.5" y="578.0" font-size="9.9" fill="#000" text-anchor="start" textLength="133.4" lengthAdjust="spacingAndGlyphs">MACD(12,26,9) -0.0891 -0.0272</text>
<text x="1.5" y="781.5" font-size="9.9" fill="#000" text-anchor="start" textLength="67.6" lengthAdjust="spacingAndGlyphs">RSI(14) 41.6759</text>
<text x="12.3" y="39.599999999999994" font-size="9.9" fill="#000" text-anchor="start" xml:space="preserve" textLength="199.3" lengthAdjust="spacingAndGlyphs">GBPJPY-,H4&#160; 137.366 137.384 137.345 137.379</text>
<polygon points="0,39 7,39 3.5,35" fill="#000"/>
<text x="1074.5" y="427.3" font-size="31" font-weight="600" letter-spacing="1.4" fill="#00f000" font-family="'Liberation Serif','Noto Serif CJK SC',serif" style="text-shadow:1px 1px 0 rgba(0,55,0,.8)">多空转折点</text>
</svg>
<div id="rs"></div><div id="bs"></div>
<style>
#pn{position:absolute;left:0;top:48px;width:219px;height:64px;background:#fff;color:#fff;box-shadow:0 -2px 0 #fff}
#pn div{position:absolute;box-sizing:border-box}
#pn .btn{top:0;height:25px;width:52px;background:linear-gradient(#5656ff,#3c3ce6);border:1px solid #1c1cc8;border-bottom:none}
#pn .btn span{position:absolute;left:-1px;right:0;top:3.5px;text-align:center;font-size:12px;line-height:14px;transform:scaleX(.88)}
#pn .ul{top:23px;width:44px;height:2px;border-top:1px solid #1a1ab4;border-bottom:1px solid #7676ff}
#pn .pp{top:24px;height:40px;background:linear-gradient(#4040ea,#2222d0 45%,#0000a6);border:1px solid #1414b8;border-top:none}
#pn .s{font-size:12.6px;font-weight:bold;line-height:13px}
#pn .b{font-size:35px;line-height:35px;transform-origin:left top;transform:scaleX(.89)}
#lot{left:54px;top:0;width:111px;height:22px;border:1px solid #a8a8a8;background:#fff}
#lot div{top:0;height:20px;background:#e9e9e9}
#lot i{position:absolute;left:7px;top:8px;border:3px solid transparent}
</style>
<div id="pn">
 <div class="btn" style="left:0"><span>SELL</span></div>
 <div class="btn" style="left:167px"><span>BUY</span></div>
 <div id="lot">
  <div style="left:0;width:21px;border-right:1px solid #a8a8a8"><i style="border-top:3px solid #000;border-bottom:none;top:8px"></i></div>
  <div style="right:0;width:21px;border-left:1px solid #a8a8a8"><i style="border-bottom:3px solid #000;border-top:none;top:8px"></i></div>
  <span style="position:absolute;right:24px;top:3px;font-size:12px;line-height:14px;color:#000">1.00</span>
 </div>
 <div class="pp" style="left:0;width:109px">
  <div class="s" style="left:22.2px;top:19.8px">137</div>
  <div class="b" style="left:47px;top:2.6px">37</div>
  <div class="s" style="left:86.1px;top:4.5px">9</div>
 </div>
 <div class="pp" style="left:111px;width:108px">
  <div class="s" style="left:21.6px;top:19.8px">137</div>
  <div class="b" style="left:45.2px;top:2.6px">42</div>
  <div class="s" style="left:86px;top:4.5px">5</div>
 </div>
 <div class="ul" style="left:4px"></div><div class="ul" style="left:171px"></div>
</div>

<div id="tb"></div><div id="tb1"></div><div id="tb2"></div>
<svg id="tbi" width="1672" height="26" viewBox="0 0 1672 26" style="position:absolute;left:0;top:0" font-family="'Liberation Sans','Noto Sans CJK SC',sans-serif">
<path d="M-1 4.5h5l3 3v7h-8z" fill="#fff" stroke="#7c7c7c" stroke-width="1"/>
<path d="M0 8.5h4.5M0 11h4.5" stroke="#8a8a8a" stroke-width="1"/>
<path d="M4.4 10.9h3.4v3.7h3.7v3.4h-3.7v3.7h-3.4v-3.7h-3.7v-3.4h3.7z" fill="#35dc35" stroke="#0c8c0c" stroke-width="0.9"/>
<text x="14.5" y="15.4" font-size="12" fill="#000" letter-spacing="0.35">新订单</text>
<defs><linearGradient id="gy" x1="0" y1="0" x2="1" y2="1"><stop offset="0" stop-color="#f6dc52"/><stop offset="0.55" stop-color="#e6b41e"/><stop offset="1" stop-color="#c08a14"/></linearGradient><linearGradient id="gb" x1="0" y1="0" x2="0" y2="1"><stop offset="0" stop-color="#ffffff"/><stop offset="1" stop-color="#c4c6d2"/></linearGradient></defs>
<path d="M63 14L69.3 5.2L79 13.2L70.8 19.6Z" fill="url(#gy)" stroke="#b07a14" stroke-width="1"/>
<path d="M64 15.3L71 20.6L79.3 14.3" stroke="#9a6a10" stroke-width="1" fill="none"/>
<path d="M65 12.8L70 6.4" stroke="#fbea8a" stroke-width="1.2"/>
<path d="M93.5 5l3-1h7.5v8.5h-10.5z" fill="#2390ee" stroke="#1660b8" stroke-width="0.9"/>
<path d="M93.5 5l3-1v8.5h-3z" fill="#1565c0"/>
<rect x="97" y="7" width="5.5" height="3" fill="#bfe2ff"/>
<path d="M94 19.3a2.8 2.8 0 0 1 0-5.4a3 3 0 0 1 5-1.3a3.2 3.2 0 0 1 5 1.4a2.7 2.7 0 0 1 0.3 5.3z" fill="#e6eefb" stroke="#6a8ccc" stroke-width="0.9"/>
<circle cx="127" cy="11.8" r="7.4" fill="#eef3f6" stroke="#9ab6dc" stroke-width="1"/>
<path d="M127 4.4a7.4 7.4 0 0 1 0 14.8z" fill="#b7dfb7"/>
<circle cx="127" cy="11.8" r="4.6" fill="none" stroke="#5b86d6" stroke-width="1.1"/>
<path d="M127 7.2a4.6 4.6 0 0 1 0 9.2" fill="none" stroke="#4aa55a" stroke-width="1.1"/>
<circle cx="127" cy="11.2" r="1.7" fill="#2a5cd0"/>
<path d="M127.3 12v7.6" stroke="#18a818" stroke-width="1.4"/>
<path d="M147 11.5l7.5 8l7-8.5z" fill="#f4d84a" stroke="#caa21c" stroke-width="0.9"/>
<ellipse cx="154" cy="9" rx="8" ry="2.6" fill="#4aa8e0" stroke="#2a80c0" stroke-width="0.8"/>
<path d="M149.8 8.5a4.3 4.6 0 0 1 8.4 0z" fill="#6cc0ee" stroke="#2a80c0" stroke-width="0.8"/>
<circle cx="158.5" cy="15.4" r="4.3" fill="#e02a12"/>
<rect x="156.8" y="13.7" width="3.4" height="3.4" fill="#fff"/>
<text x="166.9" y="15.4" font-size="12" fill="#000">自动交易</text>
<rect x="222" y="1" width="1" height="21" fill="#a0a0a0"/>
<rect x="223" y="1" width="1" height="21" fill="#fff"/>
<rect x="226" y="2" width="3" height="1" fill="#a0a0a0"/>
<rect x="226" y="4" width="3" height="1" fill="#a0a0a0"/>
<rect x="226" y="6" width="3" height="1" fill="#a0a0a0"/>
<rect x="226" y="8" width="3" height="1" fill="#a0a0a0"/>
<rect x="226" y="10" width="3" height="1" fill="#a0a0a0"/>
<rect x="226" y="12" width="3" height="1" fill="#a0a0a0"/>
<rect x="226" y="14" width="3" height="1" fill="#a0a0a0"/>
<rect x="226" y="16" width="3" height="1" fill="#a0a0a0"/>
<rect x="226" y="18" width="3" height="1" fill="#a0a0a0"/>
<rect x="226" y="20" width="3" height="1" fill="#a0a0a0"/>
<path d="M240.5 7.5V20M238 17.5H251" stroke="#505050" stroke-width="1.1" fill="none"/>
<path d="M240.5 5.8l-2 2.7h4zM252.2 17.5l-2.7-2v4z" fill="#505050"/>
<path d="M246.5 7.5v7.5M246.5 8.3h2.6M244 14.3h2.5" stroke="#12a012" stroke-width="1" fill="none"/>
<rect x="260" y="0" width="25" height="22" fill="#f9f9f9"/>
<rect x="260" y="0" width="25" height="1" fill="#909090"/>
<rect x="260" y="0" width="1" height="22" fill="#909090"/>
<rect x="285" y="0" width="1" height="23" fill="#fff"/>
<rect x="260" y="22" width="26" height="1" fill="#fff"/>
<path d="M268.5 7.5V20M266 17.5H279" stroke="#505050" stroke-width="1.1" fill="none"/>
<path d="M268.5 5.8l-2 2.7h4zM280.2 17.5l-2.7-2v4z" fill="#505050"/>
<path d="M274.4 4v11.5" stroke="#0a8a0a" stroke-width="1.1"/>
<rect x="272.3" y="6.3" width="4.2" height="7.2" fill="#4be04b" stroke="#0a8a0a" stroke-width="0.9"/>
<path d="M296.5 7.5V20M294 17.5H307" stroke="#505050" stroke-width="1.1" fill="none"/>
<path d="M296.5 5.8l-2 2.7h4zM308.2 17.5l-2.7-2v4z" fill="#505050"/>
<path d="M295.5 14.5c3-1.5 4.5-5.5 6.5-5.2s3 3.2 5 3.8" stroke="#2a9a2a" stroke-width="1.1" fill="none"/>
<rect x="317" y="1" width="1" height="21" fill="#a0a0a0"/>
<path d="M336 14l5.3 5.2" stroke="#c8a020" stroke-width="2.6" stroke-linecap="round"/>
<path d="M336.4 14.2l4.6 4.6" stroke="#f4dc70" stroke-width="1"/>
<circle cx="332" cy="10" r="5.6" fill="#d4ecfa" stroke="#3a78d4" stroke-width="1.2"/>
<path d="M328.8 10h6.4" stroke="#3f82b4" stroke-width="1.7"/>
<path d="M332 6.8v6.4" stroke="#3f82b4" stroke-width="1.7"/>
<path d="M364 14l5.3 5.2" stroke="#c8a020" stroke-width="2.6" stroke-linecap="round"/>
<path d="M364.4 14.2l4.6 4.6" stroke="#f4dc70" stroke-width="1"/>
<circle cx="360" cy="10" r="5.6" fill="#d4ecfa" stroke="#3a78d4" stroke-width="1.2"/>
<path d="M356.8 10h6.4" stroke="#3f82b4" stroke-width="1.7"/>
<rect x="382" y="4" width="8" height="8" fill="#3f9f1c"/>
<rect x="383.2" y="7" width="5.6" height="4" fill="#fff"/>
<rect x="384.2" y="8.4" width="3.6" height="1" fill="#3f9f1c" opacity="0.45"/>
<rect x="390" y="4" width="8" height="8" fill="#2456cc"/>
<rect x="391.2" y="7" width="5.6" height="4" fill="#fff"/>
<rect x="392.2" y="8.4" width="3.6" height="1" fill="#2456cc" opacity="0.45"/>
<rect x="382" y="12" width="8" height="8" fill="#2456cc"/>
<rect x="383.2" y="15" width="5.6" height="4" fill="#fff"/>
<rect x="384.2" y="16.4" width="3.6" height="1" fill="#2456cc" opacity="0.45"/>
<rect x="390" y="12" width="8" height="8" fill="#3f9f1c"/>
<rect x="391.2" y="15" width="5.6" height="4" fill="#fff"/>
<rect x="392.2" y="16.4" width="3.6" height="1" fill="#3f9f1c" opacity="0.45"/>
<rect x="407" y="1" width="1" height="21" fill="#a0a0a0"/>
<rect x="412" y="0" width="25" height="22" fill="#f9f9f9"/>
<rect x="412" y="0" width="25" height="1" fill="#909090"/>
<rect x="412" y="0" width="1" height="22" fill="#909090"/>
<rect x="437" y="0" width="1" height="23" fill="#fff"/>
<rect x="412" y="22" width="26" height="1" fill="#fff"/>
<path d="M420.5 7.5V20M418 17.5H431" stroke="#505050" stroke-width="1.1" fill="none"/>
<path d="M420.5 5.8l-2 2.7h4zM432.2 17.5l-2.7-2v4z" fill="#505050"/>
<path d="M425 8l4.2 3.5l-4.2 3.4z" fill="#5be05b" stroke="#12a012" stroke-width="0.9"/>
<rect x="440" y="0" width="25" height="22" fill="#f9f9f9"/>
<rect x="440" y="0" width="25" height="1" fill="#909090"/>
<rect x="440" y="0" width="1" height="22" fill="#909090"/>
<rect x="465" y="0" width="1" height="23" fill="#fff"/>
<rect x="440" y="22" width="26" height="1" fill="#fff"/>
<path d="M448.5 7.5V20M446 17.5H459" stroke="#505050" stroke-width="1.1" fill="none"/>
<path d="M448.5 5.8l-2 2.7h4zM460.2 17.5l-2.7-2v4z" fill="#505050"/>
<path d="M454.5 6v9.5" stroke="#1a7ab0" stroke-width="1.2"/>
<path d="M455.5 11.5l3-2.4v1.7h2v1.4h-2v1.7z" fill="#e04a10"/>
<rect x="469" y="1" width="1" height="21" fill="#a0a0a0"/>
<path d="M479.5 4.7h7l3.6 3.6v9h-10.6z" fill="#fdfdfd" stroke="#7c7c7c" stroke-width="1"/>
<path d="M486.5 4.7v3.6h3.6" fill="#e0e0e0" stroke="#7c7c7c" stroke-width="0.9"/>
<text x="481" y="14" font-size="9" font-style="italic" fill="#555" font-family="'Liberation Serif',serif">f</text>
<path d="M487.4 10.700000000000001h3.4v3.7h3.7v3.4h-3.7v3.7h-3.4v-3.7h-3.7v-3.4h3.7z" fill="#35dc35" stroke="#0c8c0c" stroke-width="0.9"/>
<path d="M501 10.8h5.6l-2.8 3.2z" fill="#000"/>
<circle cx="525" cy="11.8" r="6.8" fill="#f4f8ff" stroke="#1463d0" stroke-width="2.5"/>
<circle cx="525" cy="11.8" r="5.3" fill="none" stroke="#8abaf2" stroke-width="0.7"/>
<path d="M524.6 7.8v4.3h3.2" stroke="#303030" stroke-width="1.2" fill="none"/>
<path d="M539.7 10.8h5.6l-2.8 3.2z" fill="#000"/>
<rect x="556.5" y="5.3" width="15" height="13.4" fill="#fff" stroke="#3f7fd2" stroke-width="1"/>
<rect x="557" y="5.8" width="14" height="2" fill="#6aa6ea"/>
<path d="M557 12.6h14" stroke="#3f7fd2" stroke-width="0.8"/>
<path d="M558.5 11l2.5-0.3l2-1.3l2.5 0.8l2.5-1.2l1.5 0.2" stroke="#b03010" stroke-width="1.1" fill="none"/>
<path d="M558.5 16.6l2.5-0.2l2-1.2l2 0.6l2.2-1.8l2 2" stroke="#1f9a2f" stroke-width="1.1" fill="none"/>
<path d="M578.8 10.8h5.6l-2.8 3.2z" fill="#000"/>
<rect x="590" y="1" width="1" height="21" fill="#a0a0a0"/>
<rect x="591" y="1" width="1" height="21" fill="#fff"/>
<rect x="594" y="2" width="3" height="1" fill="#a0a0a0"/>
<rect x="594" y="4" width="3" height="1" fill="#a0a0a0"/>
<rect x="594" y="6" width="3" height="1" fill="#a0a0a0"/>
<rect x="594" y="8" width="3" height="1" fill="#a0a0a0"/>
<rect x="594" y="10" width="3" height="1" fill="#a0a0a0"/>
<rect x="594" y="12" width="3" height="1" fill="#a0a0a0"/>
<rect x="594" y="14" width="3" height="1" fill="#a0a0a0"/>
<rect x="594" y="16" width="3" height="1" fill="#a0a0a0"/>
<rect x="594" y="18" width="3" height="1" fill="#a0a0a0"/>
<rect x="594" y="20" width="3" height="1" fill="#a0a0a0"/>
<rect x="600" y="0" width="25" height="22" fill="#f9f9f9"/>
<rect x="600" y="0" width="25" height="1" fill="#909090"/>
<rect x="600" y="0" width="1" height="22" fill="#909090"/>
<rect x="625" y="0" width="1" height="23" fill="#fff"/>
<rect x="600" y="22" width="26" height="1" fill="#fff"/>
<path d="M608 5v10.8l2.5-2.2l2.6 5.6l1.7-0.8l-2.5-5.4l3.5-0.2z" fill="#505050"/>
<path d="M640.5 5v5.8M640.5 13.8v6M633 12.5h5.8M642.2 12.5h5.8" stroke="#505050" stroke-width="1.1"/>
<rect x="640" y="12" width="1" height="1" fill="#505050"/>
<rect x="657" y="1" width="1" height="21" fill="#a0a0a0"/>
<path d="M674.5 6v12.8" stroke="#505050" stroke-width="1.1"/>
<path d="M697 12.5h12" stroke="#505050" stroke-width="1.1"/>
<path d="M724.8 18.8L737 6.8" stroke="#505050" stroke-width="1.1"/>
<path d="M751 13.5l8.5-8M753 18.5l11-10.5M752.5 15.5l3 2.5M755 12.5l3.5 3M758 10l3.5 3M761 7l2.5 3.5" stroke="#505050" stroke-width="1" fill="none"/>
<text x="761.8" y="20.8" font-size="6.5" font-weight="bold" fill="#404040">E</text>
<path d="M780 5.4H793" stroke="#505050" stroke-width="1" stroke-dasharray="1,1"/>
<path d="M780 8.6H793" stroke="#505050" stroke-width="1" stroke-dasharray="1,1"/>
<path d="M780 12.6H793" stroke="#505050" stroke-width="1" stroke-dasharray="1,1"/>
<path d="M780 16.7H789" stroke="#505050" stroke-width="1" stroke-dasharray="1,1"/>
<text x="789.8" y="20.8" font-size="6.5" font-weight="bold" fill="#404040">F</text>
<text x="810.4" y="16.9" font-size="12.5" fill="#5a5a5a" stroke="#5a5a5a" stroke-width="0.35">A</text>
<rect x="837.5" y="6.5" width="11" height="12" fill="none" stroke="#505050" stroke-width="1" stroke-dasharray="1,1.1"/>
<text x="838.9" y="16.6" font-size="10.5" fill="#505050" stroke="#505050" stroke-width="0.4">T</text>
<path d="M867.5 5.8l3.8 3.4l-3.8 1.8l-3.8-1.8zM874.5 19.2l3.8-3.4l-3.8-1.8l-3.8 1.8z" fill="#505050"/>
<path d="M866 13.2l2 2l4.6-5.2" stroke="#505050" stroke-width="1.2" fill="none"/>
<path d="M884.7 10.8h5.6l-2.8 3.2z" fill="#000"/>
<rect x="896" y="0" width="1" height="23" fill="#a0a0a0"/>
<rect x="897" y="0" width="1" height="23" fill="#fff"/>
<rect x="900" y="2" width="3" height="1" fill="#a0a0a0"/>
<rect x="900" y="4" width="3" height="1" fill="#a0a0a0"/>
<rect x="900" y="6" width="3" height="1" fill="#a0a0a0"/>
<rect x="900" y="8" width="3" height="1" fill="#a0a0a0"/>
<rect x="900" y="10" width="3" height="1" fill="#a0a0a0"/>
<rect x="900" y="12" width="3" height="1" fill="#a0a0a0"/>
<rect x="900" y="14" width="3" height="1" fill="#a0a0a0"/>
<rect x="900" y="16" width="3" height="1" fill="#a0a0a0"/>
<rect x="900" y="18" width="3" height="1" fill="#a0a0a0"/>
<rect x="900" y="20" width="3" height="1" fill="#a0a0a0"/>
<rect x="1046" y="0" width="25" height="22" fill="#f9f9f9"/>
<rect x="1046" y="0" width="25" height="1" fill="#909090"/>
<rect x="1046" y="0" width="1" height="22" fill="#909090"/>
<rect x="1071" y="0" width="1" height="23" fill="#fff"/>
<rect x="1046" y="22" width="26" height="1" fill="#fff"/>
<text x="917.8" y="15.8" font-size="9.3" fill="#505050" text-anchor="middle">M1</text>
<text x="946" y="15.8" font-size="9.3" fill="#505050" text-anchor="middle">M5</text>
<text x="974.3" y="15.8" font-size="9.3" fill="#505050" text-anchor="middle">M15</text>
<text x="1002.5" y="15.8" font-size="9.3" fill="#505050" text-anchor="middle">M30</text>
<text x="1030.4" y="15.8" font-size="9.3" fill="#505050" text-anchor="middle">H1</text>
<text x="1057.6" y="15.8" font-size="9.3" fill="#505050" text-anchor="middle">H4</text>
<text x="1086.5" y="15.8" font-size="9.3" fill="#505050" text-anchor="middle">D1</text>
<text x="1115.2" y="15.8" font-size="9.3" fill="#505050" text-anchor="middle">W1</text>
<text x="1142.2" y="15.8" font-size="9.3" fill="#505050" text-anchor="middle">MN</text>
<rect x="1157" y="0" width="1" height="23" fill="#a0a0a0"/>
<circle cx="1627" cy="9.5" r="4" fill="#f0f0f0" stroke="#2a5fd0" stroke-width="1.5"/>
<path d="M1624 12.5l-4.2 4.4" stroke="#2a5fd0" stroke-width="2" stroke-linecap="round"/>
<path d="M1654 10.2a5.6 4.1 0 1 1 8.2 2.2l0.6 2.4l-2.8-1.7a5.6 4.1 0 0 1-6-2.9z" fill="url(#gb)" stroke="#8c8c8c" stroke-width="0.9"/>
<path d="M1646 13.2a4.3 3.3 0 1 1 3.2 3.2l-2 1.6l0.3-2.3a4.3 3.3 0 0 1-1.5-2.5z" fill="url(#gb)" stroke="#8c8c8c" stroke-width="0.9"/>
</svg>
</div>
</body></html>
